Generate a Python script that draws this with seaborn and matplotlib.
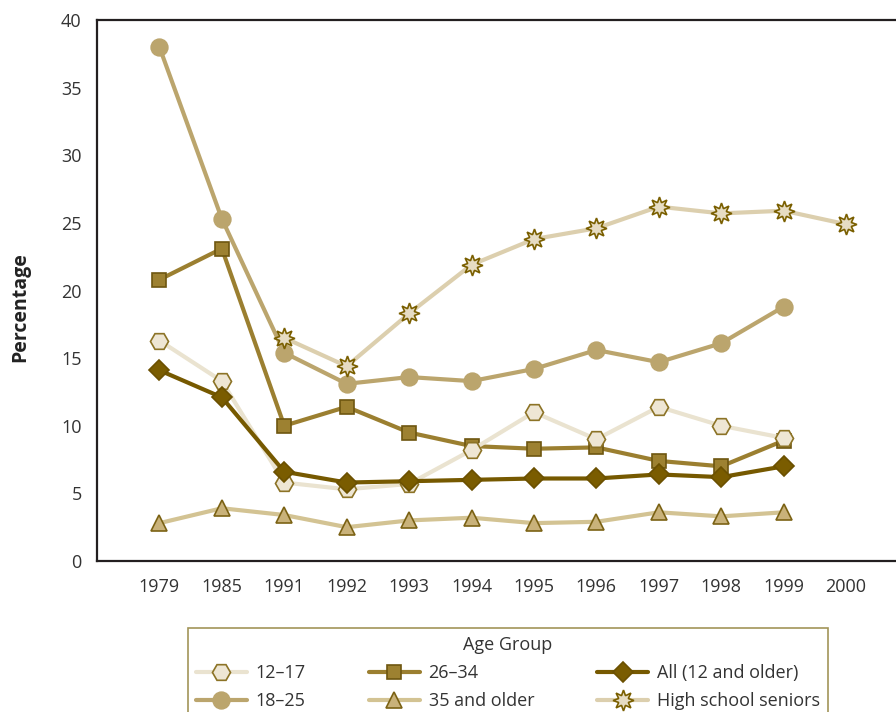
import matplotlib
matplotlib.use("Agg")
import matplotlib.pyplot as plt
import seaborn as sns
import numpy as np

sns.set_theme(style="white")
plt.rcParams['font.family'] = ['Open Sans', 'DejaVu Sans']

# data
years = ['1979', '1985', '1991', '1992', '1993', '1994', '1995', '1996', '1997', '1998', '1999', '2000']

age_12_17 = [16.3, 13.3, 5.8, 5.3, 5.7, 8.2, 11.0, 9.0, 11.4, 10.0, 9.1]
age_18_25 = [38.0, 25.3, 15.4, 13.1, 13.6, 13.3, 14.2, 15.6, 14.7, 16.1, 18.8]
age_26_34 = [20.8, 23.1, 10.0, 11.4, 9.5, 8.5, 8.3, 8.4, 7.4, 7.0, 8.9]
age_35_up = [2.8, 3.9, 3.4, 2.5, 3.0, 3.2, 2.8, 2.9, 3.6, 3.3, 3.6]
age_all = [14.1, 12.1, 6.6, 5.8, 5.9, 6.0, 6.1, 6.1, 6.4, 6.2, 7.0]
hs_years = ['1991', '1992', '1993', '1994', '1995', '1996', '1997', '1998', '1999', '2000']
hs_seniors = [16.5, 14.4, 18.3, 21.9, 23.8, 24.6, 26.2, 25.7, 25.9, 24.9]

# name, x labels, values, line colour, marker, marker size, face, edge
series = [
    ('35 and older', years[:11], age_35_up, '#D3C393', '^', 12, '#C9B27A', '#7B6214'),
    ('26–34', years[:11], age_26_34, '#9B7F30', 's', 10, '#9D8131', '#6E5610'),
    ('18–25', years[:11], age_18_25, '#BBA56D', 'o', 12, '#BBA56D', '#BBA56D'),
    ('High school seniors', hs_years, hs_seniors, '#DCCFAE', (8, 1, 0), 15, '#E6DCC3', '#7A5F00'),
    ('12–17', years[:11], age_12_17, '#EAE3D0', 'H', 13, '#EEE6D4', '#8C7326'),
    ('All (12 and older)', years[:11], age_all, '#765900', 'D', 10.5, '#7A5C00', '#6B5000'),
]
legend_order = ['12–17', '18–25', '26–34', '35 and older', 'All (12 and older)', 'High school seniors']

fig = plt.figure(figsize=(8.96, 7.12), dpi=100)
ax = fig.add_axes([97 / 896, 1 - 561 / 712, 1 - 97 / 896, 541 / 712])

handles = {}
for name, xs, vals, lc, mk, ms, fc, ec in series:
    pos = [years.index(y) for y in xs]
    sns.lineplot(x=pos, y=vals, ax=ax, color=lc, linewidth=3, marker=mk,
                 markersize=ms, markerfacecolor=fc, markeredgecolor=ec,
                 markeredgewidth=1.2, label=name)
    handles[name] = ax.lines[-1]

ax.set_xlim(-1, 11.8)
ax.set_ylim(0, 40)
ax.set_xticks(range(len(years)))
ax.set_xticklabels(years)
ax.set_yticks(np.arange(0, 41, 5))

for side in ['left', 'bottom', 'top']:
    ax.spines[side].set_color('#231F20')
    ax.spines[side].set_linewidth(1.6)
ax.spines['right'].set_visible(False)

ax.tick_params(axis='both', direction='in', length=8, width=1.6, color='#231F20',
               labelsize=13, labelcolor='#333333')
ax.tick_params(axis='x', pad=12)
ax.tick_params(axis='y', pad=11)

ax.set_xlabel('')
ax.set_ylabel('Percentage', fontsize=14, fontweight='bold', color='#222222')
ax.yaxis.set_label_coords(-0.083, 0.47)

ax.get_legend().remove()
leg = fig.legend([handles[n] for n in legend_order], legend_order,
                 title='Age Group', ncol=3, loc='upper center',
                 bbox_to_anchor=(508 / 896, 1 - 628 / 712),
                 fontsize=13, title_fontsize=13, frameon=True,
                 handlelength=2.8, columnspacing=3.5, handletextpad=0.5,
                 labelspacing=0.55, borderpad=0.45, borderaxespad=0,
                 fancybox=False)
leg.get_frame().set_edgecolor('#8B7A2E')
leg.get_frame().set_linewidth(1.2)
for t in leg.get_texts():
    t.set_color('#333333')
leg.get_title().set_color('#333333')

fig.savefig('out.png', dpi=100)
